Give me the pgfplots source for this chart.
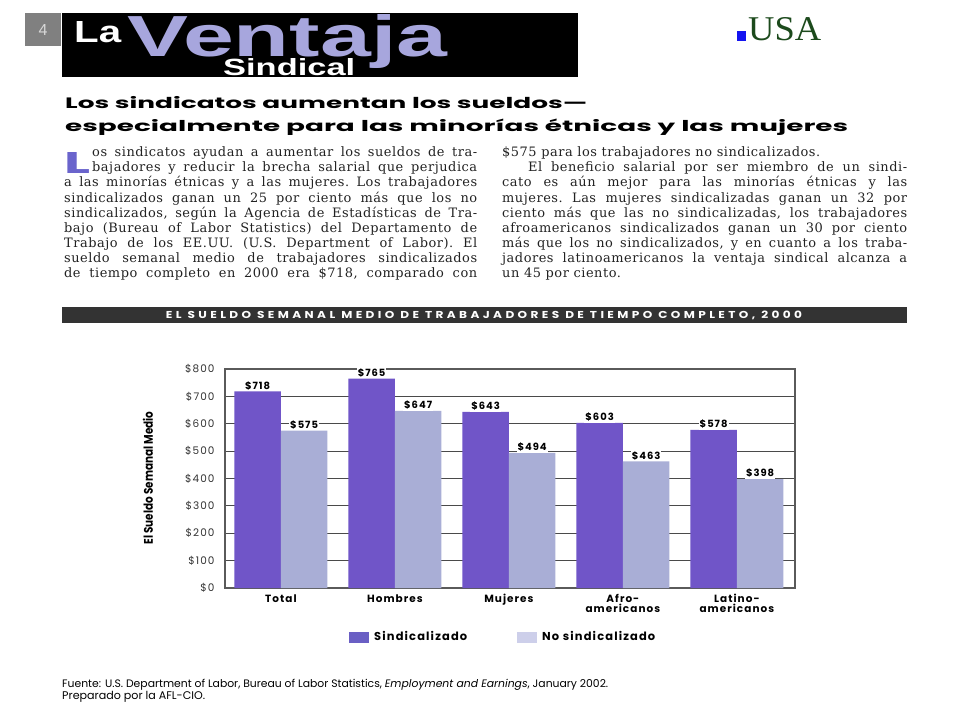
\documentclass[border=0pt]{standalone}
\usepackage{fontspec}
\usepackage{graphicx}
\usepackage{pgfplots}
\pgfplotsset{compat=1.18}
\setmainfont{DejaVu Serif}
\newfontfamily\pop{Poppins}
\newfontfamily\popls[LetterSpace=10]{Poppins}
\newfontfamily\popban[LetterSpace=28]{Poppins}
\newfontfamily\libsans{Liberation Sans}
\newfontfamily\libserif{Liberation Serif}
\newfontfamily\bodyf[LetterSpace=4]{DejaVu Serif}
\definecolor{sindc}{HTML}{7055C8}
\definecolor{nosc}{HTML}{A9AED6}
\definecolor{legs}{HTML}{6A5FC4}
\definecolor{legn}{HTML}{CDCFEA}
\definecolor{framec}{HTML}{5A5A5A}
\definecolor{gridc}{HTML}{4A4A4A}
\definecolor{ventc}{HTML}{A7A6DD}
\definecolor{dropc}{HTML}{6A64CC}
\definecolor{banc}{HTML}{333333}
\definecolor{gray4}{HTML}{808080}
\definecolor{gray4t}{HTML}{D8D8D8}
\definecolor{greenu}{HTML}{1C4A1C}
\definecolor{blueu}{HTML}{1414F0}
\definecolor{bodyc}{HTML}{222222}
\definecolor{ticktc}{HTML}{333333}
\newcommand\bodyfont{\bodyf\fontsize{13}{15}\selectfont\frenchspacing\color{bodyc}}
\newcommand\tickf{\popls\fontsize{10.5}{11}\selectfont}
\newcommand\xlabf{\popls\bfseries\fontsize{10.5}{10}\selectfont}
\newcommand\barlabf{\popls\bfseries\fontsize{10}{10}\selectfont}
\newcommand\legf{\popls\bfseries\fontsize{11.5}{12}\selectfont}
\newcommand\jl[2]{\makebox[#1][s]{#2}}
\begin{document}
\begin{tikzpicture}
\begin{scope}[x=1bp,y=-1bp, bl/.style={anchor=base west, inner sep=0pt, font=\bodyfont}]
\fill[white] (0,0) rectangle (960,720);
% header
\fill[gray4] (25,13) rectangle (61,46);
\node[text=gray4t, inner sep=0] at (43,30) {\resizebox{!}{11bp}{\libsans 4}};
\fill[black] (62,13) rectangle (578,77);
\node[anchor=base west, inner sep=0, text=white] at (74,43) {\resizebox{47bp}{21bp}{\libsans\bfseries La}};
\node[anchor=base west, inner sep=0, text=ventc] at (127,57) {\resizebox{320bp}{42bp}{\libsans\bfseries Ventaja}};
\node[anchor=base west, inner sep=0, text=white] at (223,76) {\resizebox{132bp}{17bp}{\libsans\bfseries Sindical}};
\fill[blueu] (737,31) rectangle (746,41);
\node[anchor=base west, inner sep=0, text=greenu] at (748,41) {\resizebox{73bp}{23bp}{\libserif USA}};
% heading
\node[anchor=base west, inner sep=0] at (65,109) {\resizebox{522bp}{12.5bp}{\pop\bfseries\vphantom{í}Los sindicatos aumentan los sueldos—}};
\node[anchor=base west, inner sep=0] at (65,132) {\resizebox{783bp}{12.5bp}{\pop\bfseries especialmente para las minorías étnicas y las mujeres}};
% drop cap
\node[anchor=base west, inner sep=0, text=dropc] at (64,173.5) {\resizebox{26bp}{21bp}{\pop\bfseries L}};
% left column
\node[bl] at (92,157) {\jl{385bp}{os sindicatos ayudan a aumentar los sueldos de tra-}};
\node[bl] at (92,172) {\jl{385bp}{bajadores y reducir la brecha salarial que perjudica}};
\node[bl] at (64,187) {\jl{413bp}{a las minorías étnicas y a las mujeres. Los trabajadores}};
\node[bl] at (64,202) {\jl{413bp}{sindicalizados ganan un 25 por ciento más que los no}};
\node[bl] at (64,217) {\jl{413bp}{sindicalizados, según la Agencia de Estadísticas de Tra-}};
\node[bl] at (64,232) {\jl{413bp}{bajo (Bureau of Labor Statistics) del Departamento de}};
\node[bl] at (64,247) {\jl{413bp}{Trabajo de los EE.UU. (U.S. Department of Labor). El}};
\node[bl] at (64,262) {\jl{413bp}{sueldo semanal medio de trabajadores sindicalizados}};
\node[bl] at (64,277) {\jl{413bp}{de tiempo completo en 2000 era \$718, comparado con}};
% right column
\node[bl] at (502,157) {\$575 para los trabajadores no sindicalizados.};
\node[bl] at (528,172) {\jl{379bp}{El beneficio salarial por ser miembro de un sindi-}};
\node[bl] at (502,187) {\jl{405bp}{cato es aún mejor para las minorías étnicas y las}};
\node[bl] at (502,202) {\jl{405bp}{mujeres. Las mujeres sindicalizadas ganan un 32 por}};
\node[bl] at (502,217) {\jl{405bp}{ciento más que las no sindicalizadas, los trabajadores}};
\node[bl] at (502,232) {\jl{405bp}{afroamericanos sindicalizados ganan un 30 por ciento}};
\node[bl] at (502,247) {\jl{405bp}{más que los no sindicalizados, y en cuanto a los traba-}};
\node[bl] at (502,262) {\jl{405bp}{jadores latinoamericanos la ventaja sindical alcanza a}};
\node[bl] at (502,277) {un 45 por ciento.};
% banner
\fill[banc] (62,307) rectangle (907,323);
\node[anchor=base, inner sep=0, text=white] at (484,318.5) {\resizebox{636bp}{7.5bp}{\popban\bfseries EL SUELDO SEMANAL MEDIO DE TRABAJADORES DE TIEMPO COMPLETO, 2000}};
% y label
\node[rotate=90, inner sep=0] at (148,478) {\resizebox{133bp}{10bp}{\pop\bfseries El Sueldo Semanal Medio}};
% footnote
\node[anchor=base west, inner sep=0] at (62,687) {\resizebox{546bp}{!}{\pop Fuente: U.S. Department of Labor, Bureau of Labor Statistics, \textit{Employment and Earnings}, January 2002.}};
\node[anchor=base west, inner sep=0] at (62,699) {\resizebox{143bp}{!}{\pop Preparado por la AFL-CIO.}};
\end{scope}
\begin{axis}[
  at={(225bp,-588bp)}, anchor=south west,
  scale only axis, width=570bp, height=219bp,
  xmin=-0.49, xmax=4.51, ymin=0, ymax=800,
  ybar=0pt, bar width=46.5bp,
  xtick={0,1,2,3,4},
  xticklabels={Total,Hombres,Mujeres,{Afro-\\americanos},{Latino-\\americanos}},
  ytick={0,100,...,800},
  yticklabel={\$\pgfmathprintnumber{\tick}},
  /pgf/number format/assume math mode=true,
  major tick length=0pt,
  ymajorgrids, grid style={draw=gridc, line width=0.9bp},
  axis line style={draw=framec, line width=1.3bp},
  yticklabel style={font=\tickf, text=ticktc, xshift=-7bp},
  xticklabel style={font=\xlabf, align=center, yshift=-3bp},
  nodes near coords={\$\pgfmathprintnumber{\pgfplotspointmeta}},
  every node near coord/.append style={font=\barlabf, fill=white, inner sep=1bp, anchor=south},
  clip=false,
  legend style={at={(0.2175,-0.224)}, anchor=west, draw=none, fill=none, inner sep=0pt, font=\legf,
    nodes={inner xsep=5bp},
    /tikz/every even column/.append style={column sep=45bp}},
  legend columns=2,
  legend cell align=left,
]
\addplot[fill=sindc, draw=none, bar shift=-23.25bp,
  legend image code/.code={\fill[legs] (0bp,-5.5bp) rectangle (20bp,5.5bp);}]
  coordinates {(0,718) (1,765) (2,643) (3,603) (4,578)};
\addlegendentry{Sindicalizado}
\addplot[fill=nosc, draw=none, bar shift=23.25bp,
  legend image code/.code={\fill[legn] (0bp,-5.5bp) rectangle (20bp,5.5bp);}]
  coordinates {(0,575) (1,647) (2,494) (3,463) (4,398)};
\addlegendentry{No sindicalizado}
\end{axis}
\end{tikzpicture}
\end{document}
